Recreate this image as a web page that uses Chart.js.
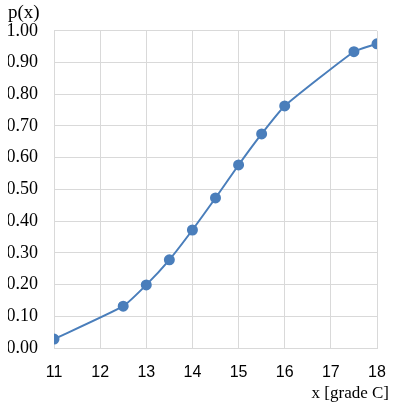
<!DOCTYPE html>
<html>
<head>
<meta charset="utf-8">
<script src="https://cdn.jsdelivr.net/npm/chart.js@4"></script>
<style>
  html, body { margin: 0; padding: 0; background: #fff; }
  #wrap { width: 393px; height: 406px; }
</style>
</head>
<body>
<div id="wrap"><canvas id="chart" width="393" height="406"></canvas></div>
<script>
// --- data ---
const xValues = [11, 12.5, 13, 13.5, 14, 14.5, 15, 15.5, 16, 17.5, 18];
const pValues = [0.028, 0.132, 0.199, 0.278, 0.372, 0.473, 0.577, 0.675, 0.763, 0.934, 0.959];
const xTicks = [11, 12, 13, 14, 15, 16, 17, 18];
const yTicks = [0, 0.1, 0.2, 0.3, 0.4, 0.5, 0.6, 0.7, 0.8, 0.9, 1.0];

const points = xValues.map((x, i) => ({ x: x, y: pValues[i] }));
const lineBlue = '#4a7ebb';
const gridGray = '#d9d9d9';

// x axis title sits right-aligned at the canvas edge, past the plot area
const xTitlePlugin = {
    id: 'xTitle',
    afterDraw(chart) {
        const ctx = chart.ctx;
        ctx.save();
        ctx.fillStyle = '#000';
        ctx.font = '17px "Liberation Serif"';
        ctx.textAlign = 'right';
        ctx.textBaseline = 'middle';
        ctx.fillText('x [grade C]', chart.width - 4, chart.chartArea.bottom + 46);
        ctx.restore();
    }
};

new Chart(document.getElementById('chart'), {
    type: 'scatter',
    data: {
        datasets: [{
            data: points,
            showLine: true,
            borderColor: lineBlue,
            backgroundColor: lineBlue,
            borderWidth: 2,
            pointRadius: 4.5,
            pointHoverRadius: 4.5,
            tension: 0.15
        }]
    },
    options: {
        responsive: false,
        animation: false,
        layout: { padding: { left: 8, right: 16, top: 2, bottom: 4 } },
        plugins: {
            legend: { display: false },
            tooltip: { enabled: false },
            title: {
                display: true,
                text: 'p(x)',
                align: 'start',
                color: '#000',
                font: { family: 'Liberation Serif', size: 19, weight: 'normal' },
                padding: { top: 0, bottom: 6 }
            }
        },
        scales: {
            x: {
                type: 'linear',
                min: xTicks[0],
                max: xTicks[xTicks.length - 1],
                afterBuildTicks: s => { s.ticks = xTicks.map(v => ({ value: v })); },
                afterFit: s => { s.height = 54; s.paddingLeft = 0; s.paddingRight = 0; },
                grid: { color: gridGray, drawTicks: false },
                border: { color: gridGray },
                ticks: {
                    color: '#000',
                    padding: 15,
                    maxRotation: 0,
                    font: { family: 'Liberation Sans', size: 16 }
                }
            },
            y: {
                min: 0,
                max: 1,
                afterBuildTicks: s => { s.ticks = yTicks.map(v => ({ value: v })); },
                afterFit: s => { s.width = 46; },
                grid: { color: gridGray, drawTicks: false },
                border: { color: gridGray },
                ticks: {
                    color: '#000',
                    padding: 16,
                    font: { family: 'Liberation Serif', size: 18 },
                    callback: v => Number(v).toFixed(2)
                }
            }
        }
    },
    plugins: [xTitlePlugin]
});
</script>
</body>
</html>
